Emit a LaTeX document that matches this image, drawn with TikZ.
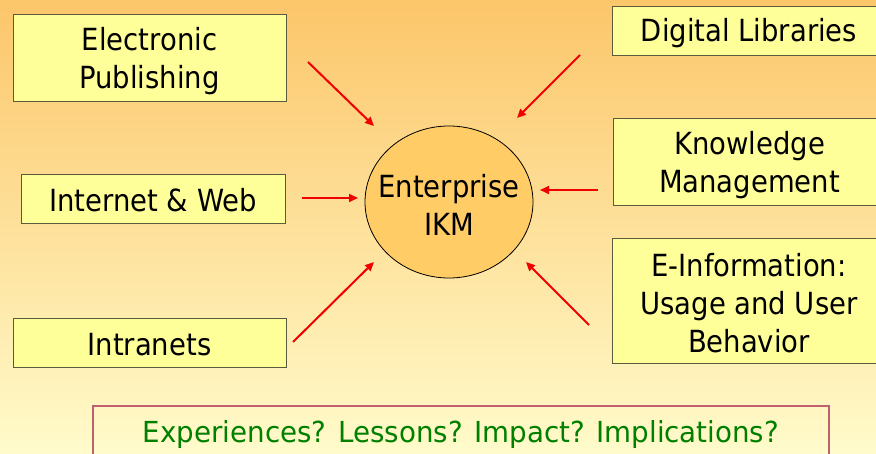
\documentclass[tikz,border=0pt]{standalone}
\usepackage{fontspec}
\setmainfont{DejaVu Sans Condensed}
\usetikzlibrary{arrows.meta,shapes.geometric}
\definecolor{bgtop}{RGB}{252,198,106}
\definecolor{bgbot}{RGB}{255,251,203}
\definecolor{boxfill}{RGB}{255,255,153}
\definecolor{boxline}{RGB}{90,90,60}
\definecolor{circfill}{RGB}{255,204,102}
\definecolor{arrred}{RGB}{240,0,0}
\definecolor{qline}{RGB}{192,96,112}
\definecolor{qtext}{RGB}{0,128,0}
\tikzset{
  topic/.style={draw=boxline, line width=0.9pt, fill=boxfill, inner sep=0pt},
  label/.style={text=black, font=\fontsize{30.5}{38}\selectfont, align=center, inner sep=0pt},
  feed/.style={draw=arrred, line width=2pt, -{Triangle[length=9pt,width=8pt]}},
}
\begin{document}
\begin{tikzpicture}[x=1pt,y=-1pt]
\useasboundingbox (0,0) rectangle (876,454);
\shade[top color=bgtop, bottom color=bgbot] (0,0) rectangle (876,454);
% boxes
\node[topic, minimum width=273pt, minimum height=87pt] (ep) at (149.5,57.5) {};
\node[topic, minimum width=274pt, minimum height=49pt] (dl) at (749,30.5) {};
\node[topic, minimum width=264pt, minimum height=49pt] (iw) at (153,198.5) {};
\node[topic, minimum width=273pt, minimum height=87pt] (km) at (749.5,161.5) {};
\node[topic, minimum width=273pt, minimum height=49pt] (in) at (149.5,342.5) {};
\node[topic, minimum width=274pt, minimum height=125pt] (ei) at (749,300.5) {};
\node[label, yshift=-4pt] (ept) at (ep) {Electronic\\Publishing};
\node[label, yshift=-3pt] (dlt) at (dl) {Digital Libraries};
\node[label, yshift=-2pt] (iwt) at (iw) {Internet \& Web};
\node[label, yshift=-4pt] (kmt) at (km) {Knowledge\\Management};
\node[label, yshift=-2pt] (int) at (in) {Intranets};
\node[label, yshift=-3pt] (eit) at (ei) {E-Information:\\Usage and User\\Behavior};
% centre
\node[ellipse, draw=black, line width=0.8pt, fill=circfill, minimum width=168pt, minimum height=152pt, inner sep=0pt] (ikm) at (449,202) {};
\node[label, yshift=-3pt] (ikmt) at (ikm) {Enterprise\\IKM};
% arrow end points
\coordinate (epA) at (308,62);  \coordinate (epB) at (374,126);
\coordinate (dlA) at (580,55);  \coordinate (dlB) at (517,118);
\coordinate (iwA) at (302,198); \coordinate (iwB) at (358,198);
\coordinate (kmA) at (598,190); \coordinate (kmB) at (540,190);
\coordinate (inA) at (293,342); \coordinate (inB) at (374,262);
\coordinate (eiA) at (589,325); \coordinate (eiB) at (526,262);
\draw[feed] (epA) -- (epB);
\draw[feed] (dlA) -- (dlB);
\draw[feed] (iwA) -- (iwB);
\draw[feed] (kmA) -- (kmB);
\draw[feed] (inA) -- (inB);
\draw[feed] (eiA) -- (eiB);
% question box
\draw[draw=qline, line width=1.2pt] (93,470) -- (93,406) -- (829,406) -- (829,470);
\node[text=qtext, anchor=base, inner sep=0pt] (q) at (461,442) {\resizebox{636pt}{22pt}{Experiences? Lessons? Impact? Implications?}};
\end{tikzpicture}
\end{document}
